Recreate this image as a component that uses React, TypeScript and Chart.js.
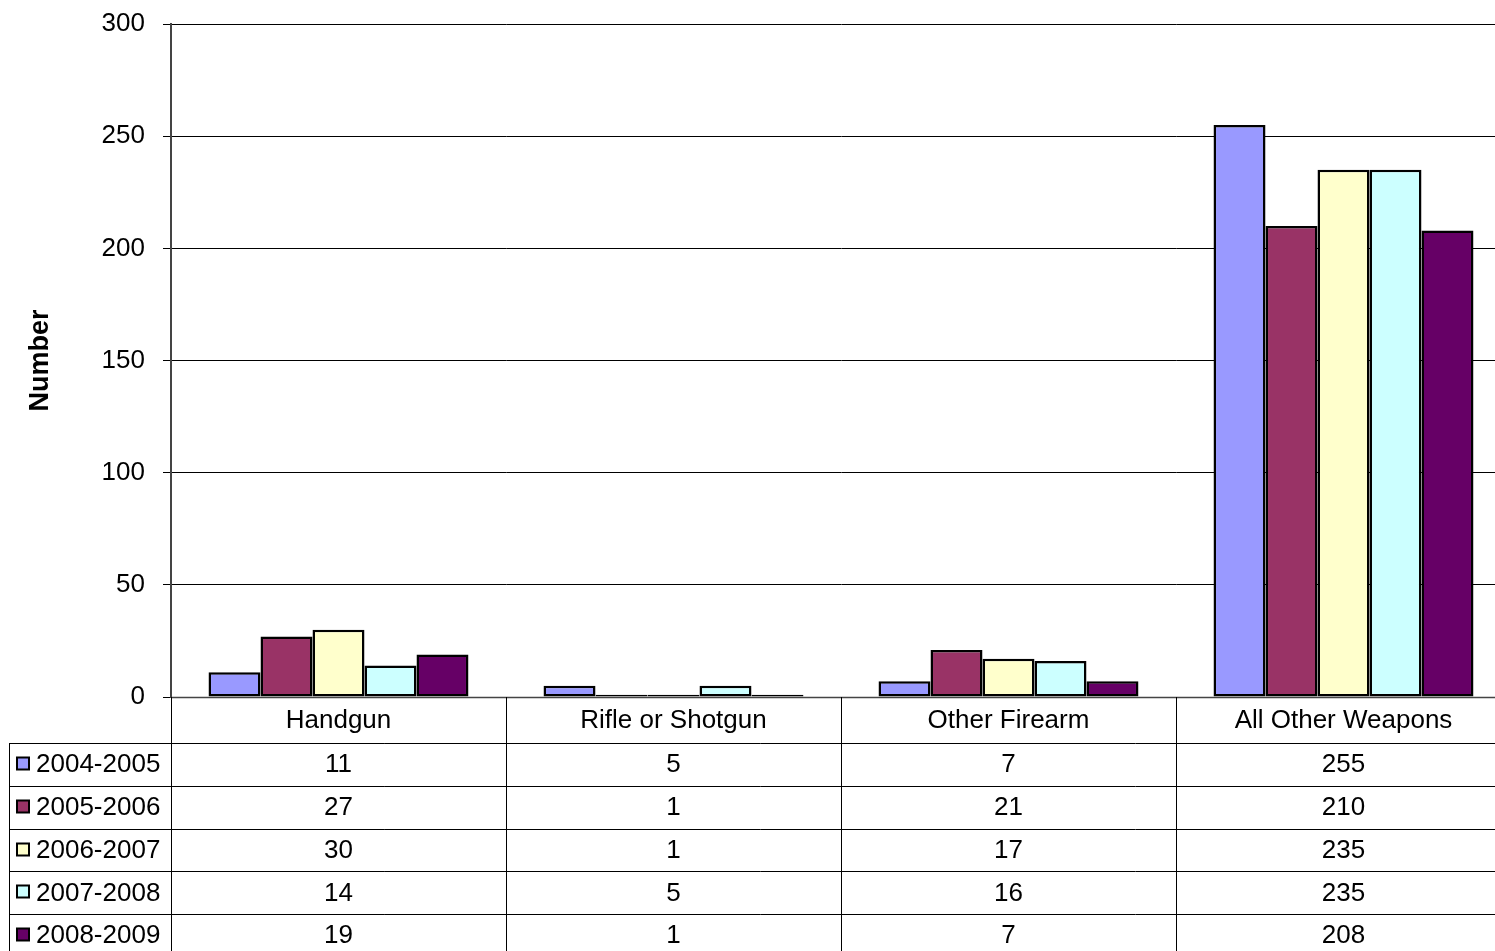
import React, { useEffect, useRef } from "react";
import { Chart, registerables } from "chart.js";

Chart.register(...registerables);

const categories = ["Handgun", "Rifle or Shotgun", "Other Firearm", "All Other Weapons"];
const seriesLabels = ["2004-2005", "2005-2006", "2006-2007", "2007-2008", "2008-2009"];
const s2004 = [11, 5, 7, 255];
const s2005 = [27, 1, 21, 210];
const s2006 = [30, 1, 17, 235];
const s2007 = [14, 5, 16, 235];
const s2008 = [19, 1, 7, 208];
const seriesValues = [s2004, s2005, s2006, s2007, s2008];
const seriesColors = ["#9999FF", "#993366", "#FFFFCC", "#CCFFFF", "#660066"];
const yTicks = { min: 0, max: 300, step: 50 };

const FONT = "'Liberation Sans', Arial, sans-serif";
const CW = 1520;
const CH = 960;

const tablePlugin = {
  id: "dataTable",
  afterDraw(chart: any) {
    const ctx = chart.ctx;
    const x = chart.scales.x;
    const area = chart.chartArea;
    const n = categories.length;
    const colW = (x.right - x.left) / n;
    const top = area.bottom;
    const headerH = 46;
    const rowH = 42.8;
    const legendLeft = 9.5;
    ctx.save();
    ctx.strokeStyle = "#444";
    ctx.lineWidth = 1.5;
    ctx.beginPath();
    ctx.moveTo(area.left, top + 0.5);
    ctx.lineTo(x.right, top + 0.5);
    ctx.stroke();
    ctx.strokeStyle = "#000";
    ctx.lineWidth = 1;
    for (let i = 0; i <= n; i++) {
      const cx = i < n ? x.getPixelForValue(i) - colW / 2 : x.getPixelForValue(n - 1) + colW / 2;
      const px = Math.round(cx) + 0.5;
      ctx.beginPath();
      ctx.moveTo(px, top);
      ctx.lineTo(px, CH);
      ctx.stroke();
    }
    ctx.beginPath();
    ctx.moveTo(legendLeft, top + headerH);
    ctx.lineTo(legendLeft, CH);
    ctx.stroke();
    for (let r = 0; r < seriesLabels.length; r++) {
      const y = Math.round(top + headerH + r * rowH) + 0.5;
      ctx.beginPath();
      ctx.moveTo(legendLeft, y);
      ctx.lineTo(x.right, y);
      ctx.stroke();
    }
    ctx.fillStyle = "#000";
    ctx.font = `26px ${FONT}`;
    ctx.textAlign = "center";
    ctx.textBaseline = "middle";
    categories.forEach((c, i) => {
      ctx.fillText(c, x.getPixelForValue(i), top + 24);
    });
    seriesLabels.forEach((lab, r) => {
      const cy = top + headerH + r * rowH + 22;
      const sy = Math.round(cy) - 7.5;
      ctx.fillStyle = seriesColors[r];
      ctx.fillRect(17, sy, 12, 12);
      ctx.strokeStyle = "#000";
      ctx.lineWidth = 2;
      ctx.strokeRect(17, sy, 12, 12);
      ctx.fillStyle = "#000";
      ctx.textAlign = "left";
      ctx.fillText(lab, 36, cy);
      ctx.textAlign = "center";
      seriesValues[r].forEach((v, i) => {
        ctx.fillText(String(v), x.getPixelForValue(i), cy);
      });
    });
    ctx.restore();
  },
};

export default function App() {
  const ref = useRef<HTMLCanvasElement>(null);
  useEffect(() => {
    if (!ref.current) return;
    const chart = new Chart(ref.current, {
      type: "bar",
      data: {
        labels: categories,
        datasets: seriesLabels.map((l, i) => ({
          label: l,
          data: seriesValues[i],
          backgroundColor: seriesColors[i],
          borderColor: "#000",
          borderWidth: 2.5,
          borderSkipped: false,
          categoryPercentage: 0.776,
          barPercentage: 1,
        })),
      },
      options: {
        responsive: false,
        animation: false,
        devicePixelRatio: 1,
        layout: { padding: { left: 0, right: 9, top: 24, bottom: 0 } },
        plugins: { legend: { display: false }, tooltip: { enabled: false } },
        scales: {
          x: {
            ticks: { display: false },
            grid: { display: false },
            border: { display: false },
            afterFit: (s: any) => {
              s.height = CH - 697;
              s.paddingLeft = 0;
              s.paddingRight = 0;
            },
          },
          y: {
            min: yTicks.min,
            max: yTicks.max,
            ticks: {
              stepSize: yTicks.step,
              color: "#000",
              font: { family: FONT, size: 26 },
              padding: 18,
            },
            grid: { color: "#000", lineWidth: 1, tickLength: 8, drawTicks: true },
            border: { display: true, color: "#444", width: 2 },
            title: {
              display: true,
              text: "Number",
              color: "#000",
              font: { family: FONT, size: 27, weight: "bold" },
              padding: { top: 24, bottom: 0 },
            },
            afterFit: (s: any) => {
              s.width = 171;
              s.paddingTop = 0;
              s.paddingBottom = 0;
            },
          },
        },
      },
      plugins: [tablePlugin],
    });
    return () => chart.destroy();
  }, []);
  return (
    <div style={{ position: "fixed", left: 0, top: 0, width: 1495, height: 951, overflow: "hidden", background: "#fff" }}>
      <canvas ref={ref} width={CW} height={CH} style={{ width: CW, height: CH, display: "block" }} />
    </div>
  );
}
